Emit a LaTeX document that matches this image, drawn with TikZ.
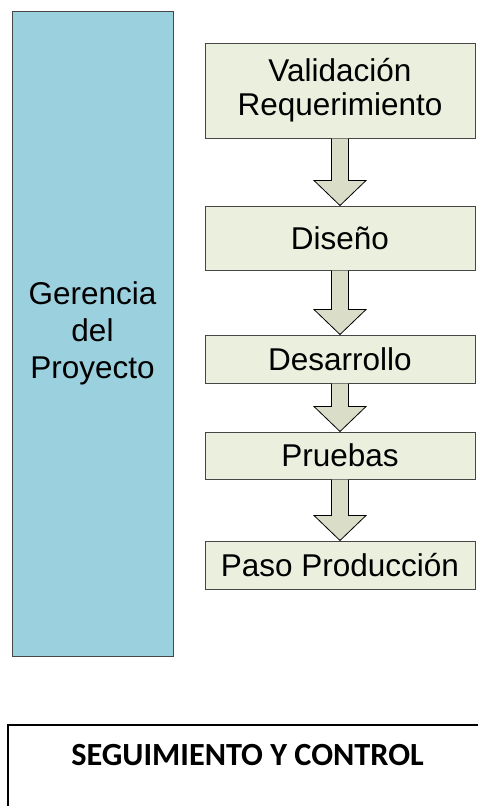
\documentclass[tikz,border=0pt]{standalone}
\usepackage{fontspec}
\setmainfont{Liberation Sans}
\newfontfamily\calib{Carlito}
\usetikzlibrary{calc}
\definecolor{bluefill}{RGB}{155,208,222}
\definecolor{greenfill}{RGB}{235,239,222}
\definecolor{arrowfill}{RGB}{218,222,200}
\definecolor{boxline}{RGB}{70,70,70}
\tikzset{
  stagebox/.style={draw=boxline, line width=1pt, fill=greenfill, minimum width=270pt, inner sep=0pt, align=center, font=\fontsize{31.5}{34}\selectfont},
  mgmtbox/.style={draw=boxline, line width=1pt, fill=bluefill, minimum width=161pt, minimum height=645pt, inner sep=0pt, align=center, font=\fontsize{31.5}{37}\selectfont},
  blockarrow/.style={draw=black, line width=0.8pt, fill=arrowfill, line join=miter}
}
\newcommand\stagearrow[2]{%
  \draw[blockarrow] ($(#1.south)+(-8.5,0)$) -- ($(#2.north)+(-8.5,-25)$) -- ($(#2.north)+(-26,-25)$) -- (#2.north) -- ($(#2.north)+(26,-25)$) -- ($(#2.north)+(8.5,-25)$) -- ($(#1.south)+(8.5,0)$);}
\begin{document}
\begin{tikzpicture}[x=1pt,y=-1pt]
\useasboundingbox (0,0) rectangle (478,806);
\begin{scope}
\clip (0,0) rectangle (478,806);
\node[mgmtbox] (mgmt) at (92.5,333.5) {Gerencia\\del\\Proyecto};
\node[stagebox, minimum height=95pt] (s1) at (340,90.5) {Validación\\Requerimiento};
\node[stagebox, minimum height=64pt] (s2) at (340,238) {Diseño};
\node[stagebox, minimum height=48pt] (s3) at (340,359) {Desarrollo};
\node[stagebox, minimum height=47pt] (s4) at (340,455.5) {Pruebas};
\node[stagebox, minimum height=48pt] (s5) at (340,565) {Paso Producción};
\stagearrow{s1}{s2}
\stagearrow{s2}{s3}
\stagearrow{s3}{s4}
\stagearrow{s4}{s5}
\node[draw=black, line width=1.5pt, minimum width=520pt, minimum height=200pt, anchor=north west] (ctrl) at (7,724) {};
\node[anchor=base, inner sep=0pt, font=\calib\bfseries\fontsize{32.3}{36}\selectfont] (ctrltext) at (247.5,765) {SEGUIMIENTO Y CONTROL};
\end{scope}
\end{tikzpicture}
\end{document}
